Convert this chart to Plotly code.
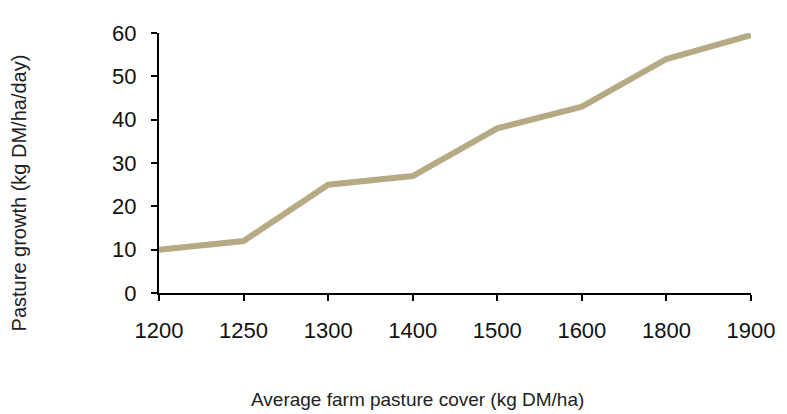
import plotly.graph_objects as go

cover = ["1200", "1250", "1300", "1400", "1500", "1600", "1800", "1900"]
growth = [10, 12, 25, 27, 38, 43, 54, 59.5]
y_ticks = [0, 10, 20, 30, 40, 50, 60]

fig = go.Figure()
fig.add_trace(go.Scatter(
    x=cover, y=growth, mode="lines",
    line=dict(color="#B5AA84", width=6),
    hoverinfo="skip",
))

font_family = "Liberation Sans, Arial, sans-serif"
# page body has an 8px margin; the figure is sized/offset to compensate
W, H = 779, 406
L, R, T, B = 151, 30, 25, 121
pw, ph = W - L - R, H - T - B

fig.update_layout(
    width=W, height=H,
    margin=dict(l=L, r=R, t=T, b=B),
    paper_bgcolor="white", plot_bgcolor="white",
    showlegend=False,
    font=dict(family=font_family, color="#111", size=22),
    xaxis=dict(
        type="category", range=[0, 7],
        showline=True, linecolor="black", linewidth=2,
        ticks="outside", ticklen=6, tickwidth=2, tickcolor="black",
        showgrid=False, zeroline=False,
        tickfont=dict(size=22, color="#111"),
        ticklabelstandoff=11,
    ),
    yaxis=dict(
        range=[0, 60], tickvals=y_ticks,
        showline=True, linecolor="black", linewidth=2,
        ticks="outside", ticklen=6, tickwidth=2, tickcolor="black",
        showgrid=False, zeroline=False,
        tickfont=dict(size=22, color="#111"),
        ticklabelstandoff=10,
    ),
    annotations=[
        dict(text="Pasture growth (kg DM/ha/day)", xref="paper", yref="paper",
             x=(10 - L) / pw, y=(H - B - 185) / ph, textangle=-90, showarrow=False,
             xanchor="center", yanchor="middle",
             font=dict(size=20, color="#222", family=font_family)),
        dict(text="Average farm pasture cover (kg DM/ha)", xref="paper", yref="paper",
             x=(412 - L) / pw, y=-(392 - (H - B)) / ph, showarrow=False,
             xanchor="center", yanchor="middle",
             font=dict(size=19, color="#222", family=font_family)),
    ],
)

fig.write_html("out.html")
